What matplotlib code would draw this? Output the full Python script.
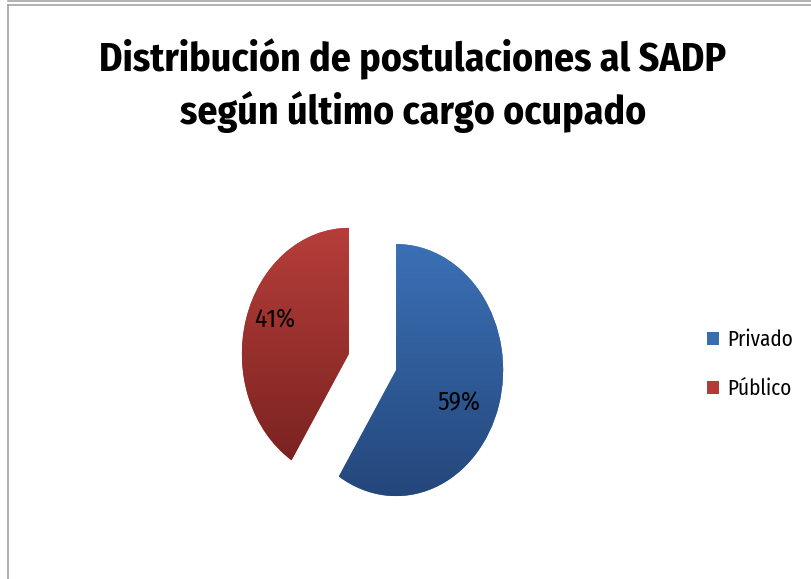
import numpy as np
import matplotlib
matplotlib.use("Agg")
import matplotlib.pyplot as plt
from matplotlib import font_manager as fm
from matplotlib.lines import Line2D
from matplotlib.colors import to_rgb

# ---------------- data ----------------
categories = ["Privado", "Público"]
values = [59, 41]
title_lines = ["Distribución de postulaciones al SADP", "según último cargo ocupado"]

# ---------------- style ----------------
W, H = 811, 579
DPI = 100
names = {f.name for f in fm.fontManager.ttflist}
def pick(cands):
    for c in cands:
        if c in names:
            return c
    return "DejaVu Sans"
FONT = pick(["Fira Sans Condensed", "Archivo Narrow", "PT Sans Narrow", "Lato", "DejaVu Sans"])
plt.rcParams["font.family"] = [FONT, "DejaVu Sans"]

top_cols = ["#3B70B6", "#B63E3A"]
bot_cols = ["#24477B", "#7B2321"]
mid_cols = ["#3A6CB0", "#B23B37"]

fig = plt.figure(figsize=(W / DPI, H / DPI), dpi=DPI)
fig.patch.set_facecolor("white")
fig.canvas.draw()
R = fig.canvas.get_renderer()

def fit_size(s, target_w, weight="normal", base=20.0):
    t = fig.text(0, 0, s, fontsize=base, fontweight=weight)
    w = t.get_window_extent(R).width
    t.remove()
    return base * target_w / w

# pixel geometry of the pie (x compressed like the reference)
cx, cy = 372.5, 362.0
rx, ry = 107.0, 126.0
lim = 1.25
ax = fig.add_axes([(cx - lim * rx) / W, (H - cy - lim * ry) / H,
                   2 * lim * rx / W, 2 * lim * ry / H])

pct_fs = fit_size("59%", 43)
wedges, texts, autotexts = ax.pie(
    values, explode=[0.23, 0.23], colors=mid_cols, startangle=90,
    counterclock=False, autopct="%1.0f%%",
    wedgeprops=dict(linewidth=0),
    textprops=dict(fontsize=pct_fs, color="black"))
ax.set_aspect("auto")
ax.axis("off")

# vertical gradient fill clipped to each wedge
for w, ct, cb in zip(wedges, top_cols, bot_cols):
    ext = w.get_path().get_extents()
    t = np.linspace(0, 1, 256)[:, None]
    a, b = np.array(to_rgb(ct)), np.array(to_rgb(cb))
    grad = (a[None, :] * (1 - t) + b[None, :] * t)[:, None, :]
    im = ax.imshow(grad, extent=(ext.x0, ext.x1, ext.y0, ext.y1), origin="upper",
                   aspect="auto", interpolation="bilinear", zorder=1.5)
    im.set_clip_path(w)
ax.set_xlim(-lim, lim)
ax.set_ylim(-lim, lim)

# percent label positions (pixel -> data)
label_px = [(459, 403), (275, 320)]
for at, (px, py) in zip(autotexts, label_px):
    at.set_position(((px - cx) / rx, (cy - py) / ry))
    at.set_ha("center")
    at.set_va("center")
    at.set_zorder(5)

# ---------------- title ----------------
title_fs = fit_size(title_lines[0], 627, weight="bold", base=30)
fig.text(413 / W, 1 - 71 / H, title_lines[0], ha="center", va="baseline",
         fontsize=title_fs, fontweight="bold")
fig.text(413 / W, 1 - 124 / H, title_lines[1], ha="center", va="baseline",
         fontsize=title_fs, fontweight="bold")

# ---------------- legend ----------------
leg_fs = fit_size("Privado", 66)
leg = fig.legend(wedges, categories, loc="center left",
                 bbox_to_anchor=(707 / W, 1 - 364.5 / H), frameon=False,
                 fontsize=leg_fs, handlelength=0.55, handleheight=0.55,
                 handletextpad=0.4, labelspacing=1.32, borderpad=0,
                 borderaxespad=0)

# ---------------- chart border ----------------
gray = "#9C9C9C"
fig.add_artist(Line2D([8 / W, 1], [1 - 0.7 / H] * 2, transform=fig.transFigure,
                      color=gray, lw=1.1))
fig.add_artist(Line2D([8 / W, 1], [1 - 5 / H] * 2, transform=fig.transFigure,
                      color=gray, lw=1.1))
fig.add_artist(Line2D([8 / W] * 2, [0, 1 - 5 / H], transform=fig.transFigure,
                      color=gray, lw=1.1))

fig.savefig("out.png", dpi=DPI, facecolor="white")
